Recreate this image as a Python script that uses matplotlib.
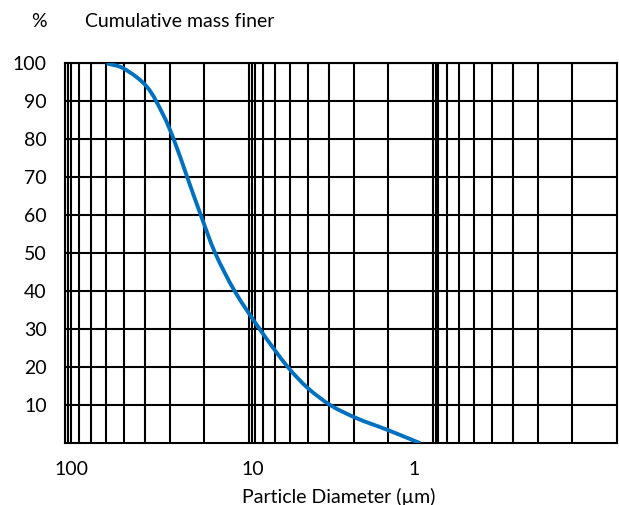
import matplotlib
matplotlib.use("Agg")
import matplotlib.pyplot as plt
import numpy as np
from matplotlib.path import Path
from matplotlib.patches import PathPatch

# curve: particle diameter (um) vs cumulative % finer
diam = [59.6, 48.4, 36.1, 29.3, 25.7, 21.7, 18.3, 15.27,
        11.96, 8.74, 6.14, 4.78, 3.6, 2.6, 1.76, 1.17]
finer = [100, 98.7, 93.9, 86.4, 80, 70, 60, 50,
         40, 30, 20, 14.5, 10, 6.6, 3.5, 0]

y_ticks = [10, 20, 30, 40, 50, 60, 70, 80, 90, 100]
x_labels = ["100", "10", "1"]
x_label_at = [92.3, 9.51, 1.27]     # where the labels sit in the picture
decades = [100, 10, 1]
# vertical grid lines inside one decade (fraction of decade, left to right)
grid_frac = [0, 0.015, 0.030, 0.077, 0.140, 0.221, 0.319, 0.435, 0.572, 0.757]

plt.rcParams["font.family"] = ["Lato", "DejaVu Sans"]
FS = 14

fig = plt.figure(figsize=(6.19, 5.05), dpi=100)
ax = fig.add_axes([65.3 / 619, 1 - 443.3 / 505, (616.7 - 65.3) / 619, 380 / 505])
ax.set_xscale("log")
ax.set_xlim(100, 0.1)
ax.set_ylim(0, 100)

for d in decades:
    for f in grid_frac:
        ax.axvline(d * 10 ** (-f), color="black", lw=1.5, zorder=1)
for y in y_ticks:
    ax.axhline(y, color="black", lw=1.5, zorder=1)

# smoothed line through the points: cubic Bezier with chord-length tangents,
# worked out in a space scaled like the screen (1 decade ~ 184 px, 1 % ~ 3.8 px)
sc = np.array([184.0, 3.8])
P = np.column_stack([np.log10(diam), finer]) * sc
t = np.concatenate([[0], np.cumsum(np.hypot(*np.diff(P, axis=0).T))])
m = np.zeros_like(P)
m[0] = (P[1] - P[0]) / (t[1] - t[0])
m[-1] = (P[-1] - P[-2]) / (t[-1] - t[-2])
for i in range(1, len(P) - 1):
    m[i] = (P[i + 1] - P[i - 1]) / (t[i + 1] - t[i - 1])
verts = [P[0]]
codes = [Path.MOVETO]
for i in range(len(P) - 1):
    h = t[i + 1] - t[i]
    verts += [P[i] + m[i] * h / 3, P[i + 1] - m[i + 1] * h / 3, P[i + 1]]
    codes += [Path.CURVE4] * 3
verts = np.array(verts) / sc
curve = PathPatch(Path(verts, codes), facecolor="none", edgecolor="#0070C0",
                  lw=2.8, capstyle="butt", zorder=3,
                  transform=ax.transLimits + ax.transAxes)
ax.add_patch(curve)

for s in ax.spines.values():
    s.set_color("black")
    s.set_linewidth(1.5)

ax.minorticks_off()
ax.set_xticks(x_label_at)
ax.set_xticklabels(x_labels)
ax.set_yticks(y_ticks)
ax.set_yticklabels([str(v) for v in y_ticks])
ax.tick_params(length=0, labelsize=FS, colors="black")
ax.tick_params(axis="x", pad=13)
ax.tick_params(axis="y", pad=13.4)

fig.text(338.7 / 619, 1 - 496.7 / 505, "Particle Diameter (\u00b5m)",
         ha="center", va="center", fontsize=FS)
fig.text(39 / 619, 1 - 21.7 / 505, "%", ha="center", va="center", fontsize=FS)
fig.text(85 / 619, 1 - 21.7 / 505, "Cumulative mass finer",
         ha="left", va="center", fontsize=FS)

fig.savefig("out.png", dpi=100, facecolor="white")
